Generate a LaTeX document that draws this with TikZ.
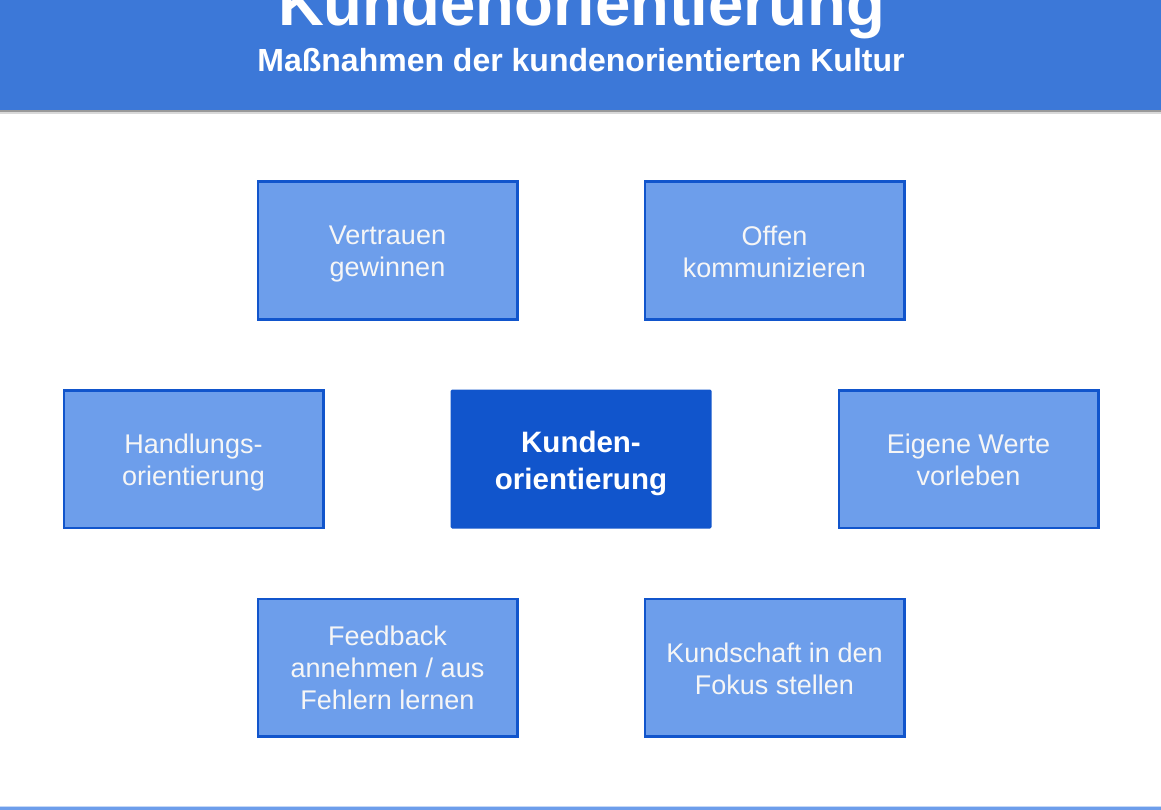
\documentclass[tikz,border=0pt]{standalone}
\usepackage{fontspec}
\setmainfont{Liberation Sans}
\definecolor{hdr}{HTML}{3C78D8}
\definecolor{boxfill}{HTML}{6D9EEB}
\definecolor{boxline}{HTML}{1155CC}
\definecolor{txt}{HTML}{F6F6F6}
\begin{document}
\begin{tikzpicture}[x=1pt,y=-1pt,
  item/.style={draw=boxline, line width=2.5pt, fill=boxfill, minimum width=259.5pt, minimum height=137.5pt, inner sep=0pt},
  itemtxt/.style={align=center, inner sep=0pt, text=txt, font=\fontsize{27}{32}\selectfont, execute at begin node=\strut, execute at end node=\strut},
  core/.style={fill=boxline, minimum width=261pt, minimum height=139pt, rounded corners=1.5pt, inner sep=0pt},
  coretxt/.style={align=center, inner sep=0pt, text=white, font=\bfseries\fontsize{29.5}{37}\selectfont, execute at begin node=\strut, execute at end node=\strut},
  headtxt/.style={text=white, anchor=base, inner sep=0pt}]
\useasboundingbox (0,0) rectangle (1161,810);
\fill[white] (0,0) rectangle (1161,810);
% header
\fill[hdr] (0,0) rectangle (1161,110);
\fill[black!40] (0,110) rectangle (1161,112);
\fill[black!15] (0,112) rectangle (1161,114);
\node[headtxt, font=\bfseries\fontsize{63.5}{64}\selectfont] (title) at (581.5,26) {Kundenorientierung};
\node[headtxt, font=\bfseries\fontsize{32}{34}\selectfont] (subtitle) at (581,72) {Maßnahmen der kundenorientierten Kultur};
% boxes
\node[item] (vertrauen) at (387.5,250.5) {};
\node[itemtxt] (vertrauen-t) at ([yshift=-6pt]vertrauen.center) {Vertrauen\\gewinnen};
\node[item] (offen) at (774.5,250.5) {};
\node[itemtxt] (offen-t) at ([yshift=-6pt]offen.center) {Offen\\kommunizieren};
\node[item] (handlung) at (193.5,459) {};
\node[itemtxt] (handlung-t) at ([yshift=-6pt]handlung.center) {Handlungs-\\orientierung};
\node[core] (kunden) at (581,459) {};
\node[coretxt] (kunden-t) at ([yshift=-6.5pt]kunden.center) {Kunden-\\orientierung};
\node[item] (werte) at (968.5,459) {};
\node[itemtxt] (werte-t) at ([yshift=-6pt]werte.center) {Eigene Werte\\vorleben};
\node[item] (feedback) at (387.5,667.5) {};
\node[itemtxt] (feedback-t) at ([yshift=-5pt]feedback.center) {Feedback\\annehmen / aus\\Fehlern lernen};
\node[item] (fokus) at (774.5,667.5) {};
\node[itemtxt] (fokus-t) at ([yshift=-6pt]fokus.center) {Kundschaft in den\\Fokus stellen};
% bottom line
\fill[boxfill!40] (0,805.5) rectangle (1161,807);
\fill[boxfill] (0,807) rectangle (1161,810);
\end{tikzpicture}
\end{document}
